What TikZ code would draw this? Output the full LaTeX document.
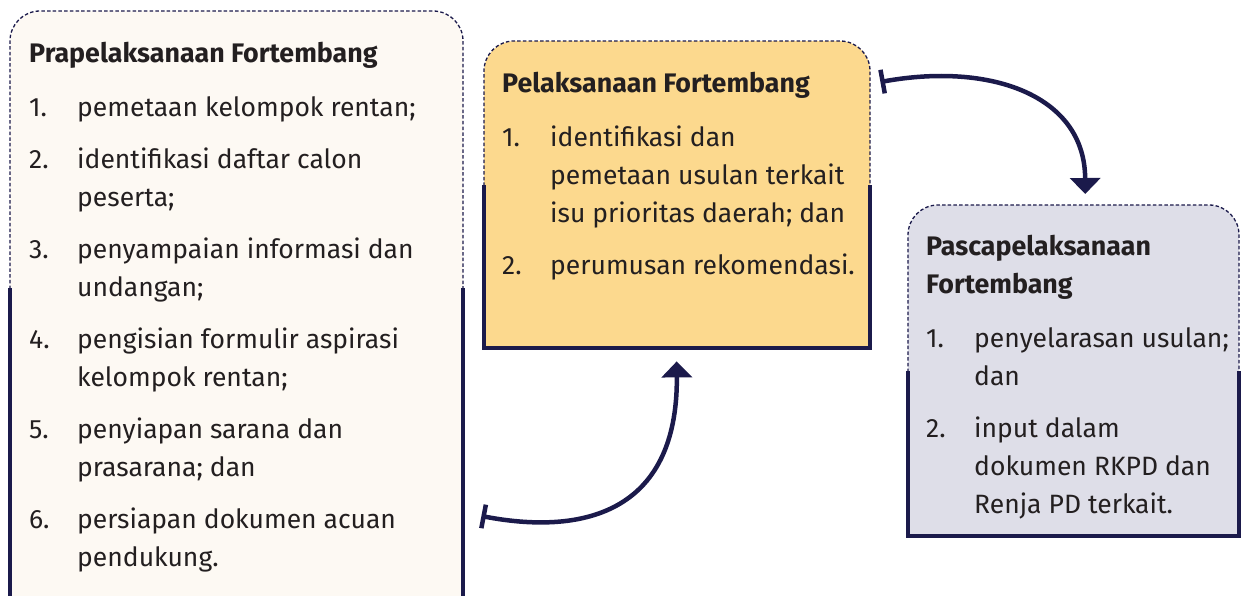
\documentclass[tikz,border=0pt]{standalone}
\usepackage{fontspec}
\setmainfont{Fira Sans}
\usetikzlibrary{arrows.meta,calc}
\definecolor{navy}{HTML}{1B1A4B}
\definecolor{ink}{HTML}{231F20}
\definecolor{cream}{HTML}{FDF9F3}
\definecolor{sand}{HTML}{FCD98E}
\definecolor{lilac}{HTML}{DEDEE8}
\tikzset{
  panel/.style={rounded corners=30pt, inner sep=0pt, anchor=north west},
  dashedge/.style={draw=navy, line width=1.3pt, dash pattern=on 3.5pt off 2.2pt, rounded corners=30pt},
  solidedge/.style={draw=navy, line width=4.8pt},
  content/.style={anchor=base west, inner sep=0pt, text=ink, font=\fontsize{26.5}{38}\selectfont},
  flow/.style={draw=navy, line width=4.5pt, {Bar[width=24pt,line width=4.5pt]}-{Triangle[width=30pt,length=16pt]}}
}
\newcommand{\ttl}[1]{\multicolumn{2}{@{}l@{}}{\fontsize{26.8}{38}\selectfont\bfseries #1}}
\begin{document}
\begin{tikzpicture}[x=1pt,y=-1pt]
\useasboundingbox (0,0) rectangle (1241,596);
% ---------- box 1
\node[panel, fill=cream, minimum width=453pt, minimum height=640pt] (b1) at (10,11) {};
\fill[cream] (10,300) rectangle (463,650);
\draw[dashedge] (10,289) -- (10,11) -- (463,11) -- (463,289);
\draw[solidedge] (10,288) -- (10,620);
\draw[solidedge] (463,288) -- (463,620);
% ---------- box 2
\node[panel, fill=sand, minimum width=386pt, minimum height=307pt] (b2) at (484,41) {};
\fill[sand] (484,200) rectangle (870,348);
\draw[dashedge] (484,186) -- (484,41) -- (870,41) -- (870,186);
\draw[solidedge] (484,185) -- (484,348) -- (870,348) -- (870,185);
% ---------- box 3
\node[panel, fill=lilac, minimum width=331pt, minimum height=331pt] (b3) at (908,205) {};
\fill[lilac] (908,380) rectangle (1239,536);
\draw[dashedge] (908,372) -- (908,205) -- (1239,205) -- (1239,372);
\draw[solidedge] (908,371) -- (908,536) -- (1239,536) -- (1239,371);
% ---------- texts
\node[content] (t1) at (29,63) {\begin{tabular}[t]{@{}p{48pt}@{}l@{}}
\ttl{Prapelaksanaan Fortembang}\\[16pt]
1. & pemetaan kelompok rentan;\\[14pt]
2. & identifikasi daftar calon\\
   & peserta;\\[14pt]
3. & penyampaian informasi dan\\
   & undangan;\\[14pt]
4. & pengisian formulir aspirasi\\
   & kelompok rentan;\\[14pt]
5. & penyiapan sarana dan\\
   & prasarana; dan\\[14pt]
6. & persiapan dokumen acuan\\
   & pendukung.
\end{tabular}};
\node[content] (t2) at (502,93) {\begin{tabular}[t]{@{}p{48pt}@{}l@{}}
\ttl{Pelaksanaan Fortembang}\\[16pt]
1. & identifikasi dan\\
   & pemetaan usulan terkait\\
   & isu prioritas daerah; dan\\[14pt]
2. & perumusan rekomendasi.
\end{tabular}};
\node[content] (t3) at (926,255) {\begin{tabular}[t]{@{}p{48pt}@{}l@{}}
\ttl{Pascapelaksanaan}\\
\ttl{Fortembang}\\[16pt]
1. & penyelarasan usulan;\\
   & dan\\[14pt]
2. & input dalam\\
   & dokumen RKPD dan\\
   & Renja PD terkait.
\end{tabular}};
% ---------- connectors
\draw[flow] ($(b1.north east)+(18,505)$) .. controls (580,535) and (678,515) .. ($(b2.south)+(-0.5,13)$);
\draw[flow] ($(b2.north east)+(10,41)$) .. controls (990,62) and (1085,95) .. ($(b3.north)+(11.5,-11)$);
\end{tikzpicture}
\end{document}
